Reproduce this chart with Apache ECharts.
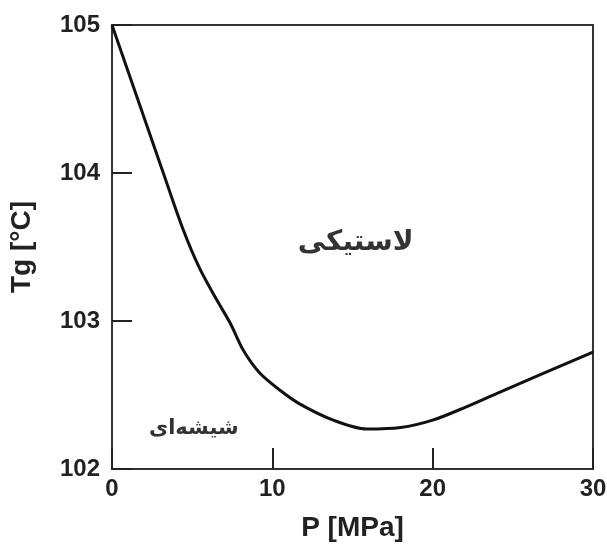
<!DOCTYPE html>
<html>
<head>
<meta charset="utf-8">
<script src="https://cdn.jsdelivr.net/npm/echarts@6/dist/echarts.min.js"></script>
<style>
  html, body { margin: 0; padding: 0; background: #fff; }
  #chart { width: 607px; height: 545px; }
</style>
</head>
<body>
<div id="chart"></div>
<script>
// فشار (MPa) و دمای انتقال شیشه‌ای
const pressure = [0, 1.6, 3.2, 4.43, 5.49, 6.55, 7.4, 8.2, 9.2, 10.5, 11.7, 13.8, 15.9, 18, 20, 22.1, 24.2, 30];
const tg = [105, 104.5, 104.0, 103.62, 103.35, 103.14, 102.98, 102.80, 102.65, 102.53, 102.44, 102.33, 102.27, 102.28, 102.33, 102.42, 102.52, 102.79];

const regionNames = ['لاستیکی', 'شیشه‌ای'];
const regionX = [15.2, 5.1];
const regionY = [103.53, 102.27];
const regionSize = [28, 21];

const xTicks = [0, 10, 20, 30];
const yTicks = [102, 103, 104, 105];

let chartDom = document.getElementById('chart');
let myChart = echarts.init(chartDom);
let option;

const tickFont = { color: '#222', fontFamily: 'Liberation Sans', fontWeight: 'bold', fontSize: 24 };
const nameFont = { color: '#222', fontFamily: 'Liberation Sans', fontWeight: 'bold', fontSize: 28 };

option = {
    animation: false,
    grid: {
        left: 112, right: 14, top: 25, bottom: 76,
        outerBoundsMode: 'none',
        show: true, borderColor: '#333', borderWidth: 2
    },
    xAxis: {
        type: 'value',
        min: xTicks[0], max: xTicks[xTicks.length - 1], interval: 10,
        name: 'P [MPa]', nameLocation: 'middle', nameGap: 45,
        nameTextStyle: nameFont,
        axisLine: { lineStyle: { color: '#333', width: 2 } },
        axisTick: { inside: true, length: 21, lineStyle: { color: '#222', width: 2 } },
        axisLabel: Object.assign({ margin: 8 }, tickFont),
        splitLine: { show: false }
    },
    yAxis: {
        type: 'value',
        min: yTicks[0], max: yTicks[yTicks.length - 1], interval: 1,
        name: 'Tg [°C]', nameLocation: 'middle', nameGap: 76,
        nameTextStyle: nameFont,
        axisLine: { lineStyle: { color: '#333', width: 2 } },
        axisTick: { inside: true, length: 20, lineStyle: { color: '#222', width: 2 } },
        axisLabel: Object.assign({ margin: 12 }, tickFont),
        splitLine: { show: false }
    },
    series: [
        {
            type: 'line',
            data: pressure.map((p, i) => [p, tg[i]]),
            smooth: 0.3,
            symbol: 'none',
            lineStyle: { color: '#111', width: 3 }
        },
        {
            type: 'scatter',
            data: regionNames.map((n, i) => ({
                value: [regionX[i], regionY[i]],
                name: n,
                label: { fontSize: regionSize[i] }
            })),
            symbolSize: 0,
            label: {
                show: true,
                position: 'inside',
                formatter: p => p.name,
                color: '#000',
                fontFamily: 'DejaVu Sans',
                fontWeight: 'bold'
            }
        }
    ]
};

option && myChart.setOption(option);
</script>
</body>
</html>
